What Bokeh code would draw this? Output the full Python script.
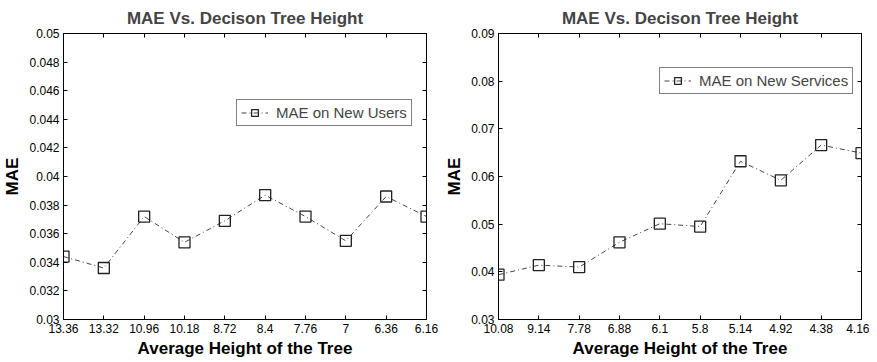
from bokeh.plotting import figure
from bokeh.models import (Range1d, FixedTicker, LinearAxis, Legend, LegendItem)
from bokeh.layouts import row
from bokeh.embed import file_html
from bokeh.resources import INLINE

# ---- data ----
left_xlabels = ["13.36", "13.32", "10.96", "10.18", "8.72", "8.4", "7.76", "7", "6.36", "6.16"]
left_mae = [0.0344, 0.0336, 0.0372, 0.0354, 0.0369, 0.0387, 0.0372, 0.0355, 0.0386, 0.0372]
left_yticks = [0.03, 0.032, 0.034, 0.036, 0.038, 0.04, 0.042, 0.044, 0.046, 0.048, 0.05]
left_ylabels = ["0.03", "0.032", "0.034", "0.036", "0.038", "0.04", "0.042", "0.044", "0.046", "0.048", "0.05"]

right_xlabels = ["10.08", "9.14", "7.78", "6.88", "6.1", "5.8", "5.14", "4.92", "4.38", "4.16"]
right_mae = [0.0394, 0.0414, 0.0410, 0.0462, 0.0501, 0.0495, 0.0632, 0.0592, 0.0666, 0.0649]
right_yticks = [0.03, 0.04, 0.05, 0.06, 0.07, 0.08, 0.09]
right_ylabels = ["0.03", "0.04", "0.05", "0.06", "0.07", "0.08", "0.09"]

FONT = "Liberation Sans"


def make_panel(xlabels, yvals, yticks, ylabels, legend_label, legend_loc, right_border):
    n = len(xlabels)
    xs = list(range(n))
    p = figure(frame_width=363, frame_height=286, output_backend="svg", toolbar_location=None,
               x_range=Range1d(0, n - 1), y_range=Range1d(yticks[0], yticks[-1]),
               min_border_left=55, min_border_right=right_border, min_border_top=25,
               min_border_bottom=0, title="MAE Vs. Decison Tree Height")
    p.title.align = "center"
    p.title.text_font = FONT
    p.title.text_font_size = "17px"
    p.title.text_font_style = "bold"
    p.title.offset = 0
    p.title.standoff = 12
    p.grid.visible = False
    p.outline_line_color = "black"
    p.outline_line_width = 1
    p.background_fill_color = "white"
    p.border_fill_color = "white"

    xt = FixedTicker(ticks=xs)
    yt = FixedTicker(ticks=yticks)
    xover = {i: xlabels[i] for i in xs}
    yover = {v: l for v, l in zip(yticks, ylabels)}

    xa = p.xaxis[0]
    xa.ticker = xt
    xa.major_label_overrides = xover
    ya = p.yaxis[0]
    ya.ticker = yt
    ya.major_label_overrides = yover
    for ax in (xa, ya):
        ax.major_tick_in = 4
        ax.major_tick_out = 0
        ax.minor_tick_in = 0
        ax.minor_tick_out = 0
        ax.axis_line_color = "black"
        ax.major_tick_line_color = "black"
        ax.major_label_text_font = FONT
        ax.major_label_text_font_size = "12px"
        ax.major_label_text_color = "black"
        ax.axis_label_text_font = FONT
        ax.axis_label_text_font_size = "17px"
        ax.axis_label_text_font_style = "bold"
        ax.axis_label_text_color = "black"
    xa.axis_label = "Average Height of the Tree"
    ya.axis_label = "MAE"
    xa.major_label_standoff = 4
    xa.axis_label_standoff = 3
    ya.major_label_standoff = 4
    ya.axis_label_standoff = 4

    top = LinearAxis(ticker=FixedTicker(ticks=xs), major_tick_in=4, major_tick_out=0,
                     minor_tick_in=0, minor_tick_out=0, major_label_text_font_size="1px",
                     major_label_text_color=None, major_label_standoff=0,
                     axis_label_standoff=0)
    right = LinearAxis(ticker=FixedTicker(ticks=yticks), major_tick_in=4, major_tick_out=0,
                       minor_tick_in=0, minor_tick_out=0, major_label_text_font_size="1px",
                       major_label_text_color=None, major_label_standoff=0,
                       axis_label_standoff=0)
    p.add_layout(top, "above")
    p.add_layout(right, "right")

    ln = p.line(xs, yvals, line_color="#444444", line_width=1, line_dash="5 3 1 3")
    sc = p.scatter(xs, yvals, marker="square", size=11, fill_color=None,
                   line_color="#222222", line_width=1.3)

    leg = Legend(items=[LegendItem(label=legend_label, renderers=[ln, sc])],
                 location=legend_loc, border_line_color="black", border_line_width=1.3,
                 label_text_font=FONT, label_text_font_size="15px",
                 glyph_width=27, glyph_height=17, padding=4, margin=0,
                 label_standoff=8, label_height=17, background_fill_alpha=1)
    p.add_layout(leg, "center")
    return p


p1 = make_panel(left_xlabels, left_mae, left_yticks, left_ylabels,
                "MAE on New Users", (173, 193), 16)
p2 = make_panel(right_xlabels, right_mae, right_yticks, right_ylabels,
                "MAE on New Services", (161, 225), 8)

layout = row(p1, p2)
open("out.html", "w").write(file_html(layout, INLINE))
